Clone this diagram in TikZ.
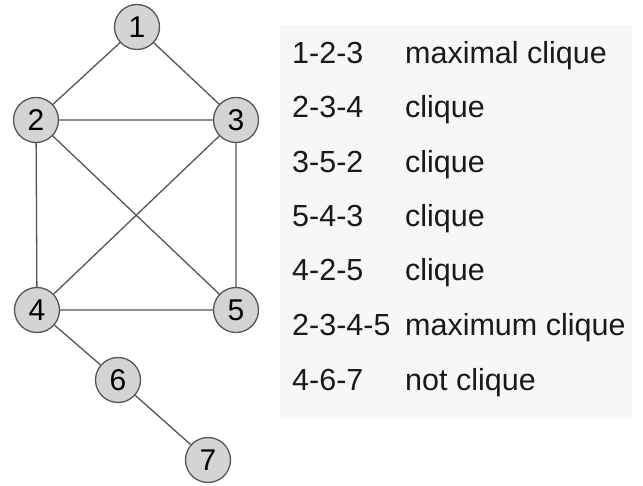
\documentclass[tikz,border=0pt]{standalone}
\usepackage{fontspec}
\setmainfont{Liberation Sans}
\definecolor{nodefill}{HTML}{D4D4D4}
\definecolor{edgecol}{HTML}{555555}
\definecolor{boxfill}{HTML}{F7F7F7}
\begin{document}
\begin{tikzpicture}[x=1pt,y=-1pt,
  vert/.style={circle,draw=edgecol,fill=nodefill,line width=1.3pt,minimum size=45pt,inner sep=0pt,font=\fontsize{30}{30}\selectfont},
  edge/.style={draw=edgecol,line width=1.3pt},
  lbl/.style={anchor=base west,inner sep=0pt,font=\fontsize{30.5}{30}\selectfont,text=black!90}]
\useasboundingbox (0,0) rectangle (643,486);
\fill[boxfill] (280,25) rectangle (632,418);
\node[vert] (n1) at (137,27) {1};
\node[vert] (n2) at (36,120) {2};
\node[vert] (n3) at (236,120) {3};
\node[vert] (n4) at (37,310) {4};
\node[vert] (n5) at (236,310) {5};
\node[vert] (n6) at (118,380) {6};
\node[vert] (n7) at (208,460) {7};
\path[edge] (n1) -- (n2) (n1) -- (n3) (n2) -- (n3) (n2) -- (n4) (n2) -- (n5)
  (n3) -- (n4) (n3) -- (n5) (n4) -- (n5) (n4) -- (n6) (n6) -- (n7);
\node[lbl] (a1) at (292,64) {1-2-3};   \node[lbl] (b1) at (405,64) {maximal clique};
\node[lbl] (a2) at (292,118) {2-3-4};  \node[lbl] (b2) at (405,118) {clique};
\node[lbl] (a3) at (292,173) {3-5-2};  \node[lbl] (b3) at (405,173) {clique};
\node[lbl] (a4) at (292,227) {5-4-3};  \node[lbl] (b4) at (405,227) {clique};
\node[lbl] (a5) at (292,281) {4-2-5};  \node[lbl] (b5) at (405,281) {clique};
\node[lbl] (a6) at (292,336) {2-3-4-5}; \node[lbl] (b6) at (405,336) {maximum clique};
\node[lbl] (a7) at (292,391) {4-6-7};  \node[lbl] (b7) at (405,391) {not clique};
\end{tikzpicture}
\end{document}
